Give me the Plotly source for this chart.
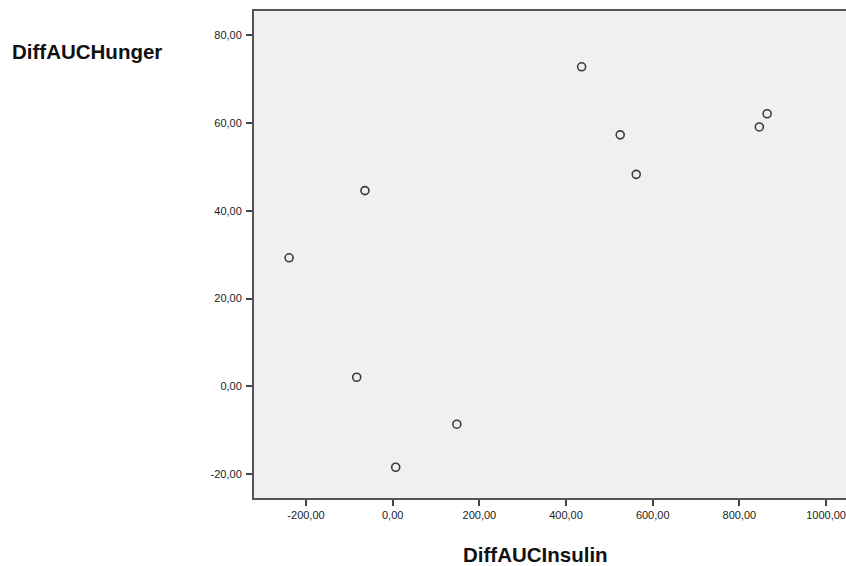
import plotly.graph_objects as go

diff_auc_insulin = [-239, -64, -83, 7, 148, 436, 525, 562, 846, 864]
diff_auc_hunger = [29.3, 44.6, 2.1, -18.4, -8.6, 72.8, 57.3, 48.3, 59.1, 62.1]

x_ticks = [-200, 0, 200, 400, 600, 800, 1000]
x_tick_labels = ["-200,00", "0,00", "200,00", "400,00", "600,00", "800,00", "1000,00"]
y_ticks = [-20, 0, 20, 40, 60, 80]
y_tick_labels = ["-20,00", "0,00", "20,00", "40,00", "60,00", "80,00"]

fig = go.Figure()
fig.add_trace(go.Scatter(
    x=diff_auc_insulin, y=diff_auc_hunger, mode="markers",
    marker=dict(symbol="circle-open", size=8, color="#3a3a3a", line=dict(width=1.6)),
    showlegend=False, hoverinfo="x+y",
))

axis_common = dict(
    showgrid=False, zeroline=False, showline=True, linecolor="#555555", linewidth=2,
    ticks="outside", ticklen=6, tickwidth=2, tickcolor="#444444",
    tickfont=dict(family="Arial, Liberation Sans, sans-serif", size=11, color="#222222"),
)

title_font = dict(family="Arial, Liberation Sans, sans-serif", size=20.5, color="#111111")

fig.update_layout(
    width=846, height=566,
    margin=dict(l=254, r=0, t=11, b=68),
    paper_bgcolor="white", plot_bgcolor="#f0f0f0",
    xaxis=dict(range=[-320, 1046], tickvals=x_ticks, ticktext=x_tick_labels,
               mirror=True, **axis_common),
    yaxis=dict(range=[-25.4, 85.5], tickvals=y_ticks, ticktext=y_tick_labels,
               mirror=False, ticklabelstandoff=2, **axis_common),
    annotations=[
        dict(text="<b>DiffAUCHunger</b>", xref="paper", yref="paper",
             x=(10 - 254) / 592, y=(498 - 51) / 487, xanchor="left", yanchor="middle",
             showarrow=False, font=title_font),
        dict(text="<b>DiffAUCInsulin</b>", xref="paper", yref="paper",
             x=(535 - 254) / 592, y=(498 - 554) / 487, xanchor="center", yanchor="middle",
             showarrow=False, font=title_font),
    ],
)

fig.write_html("out.html")
